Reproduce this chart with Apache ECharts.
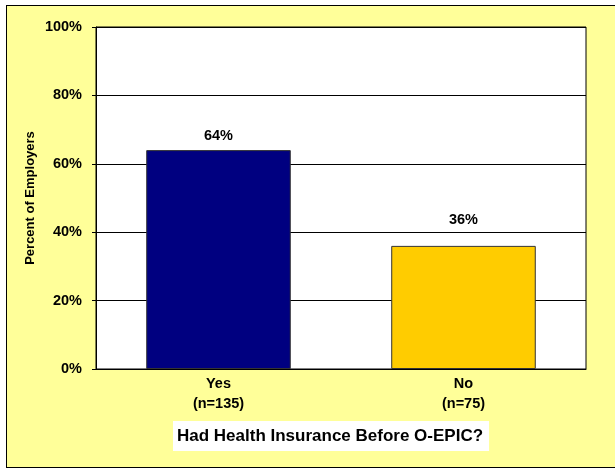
<!DOCTYPE html>
<html>
<head>
<meta charset="utf-8">
<script src="https://cdn.jsdelivr.net/npm/echarts@6/dist/echarts.min.js"></script>
<style>
  html, body { margin: 0; padding: 0; background: #fff; overflow: hidden; width: 615px; height: 468px; }
  #frame { position: absolute; left: 6px; top: 5px; width: 620px; height: 461px; border: 1px solid #000; background: #FFFF99; }
  #chart { position: absolute; left: 0; top: 0; width: 615px; height: 468px; }
</style>
</head>
<body>
<div id="frame"></div>
<div id="chart"></div>
<script>
// Employers that had health insurance before O-EPIC
const categories = ['Yes\n(n=135)', 'No\n(n=75)'];
const percentValues = [64, 36];
const barColors = ['#000080', '#FFCC00'];
const labelDistances = [7, 18];
const yTicks = [0, 20, 40, 60, 80, 100];

const chart = echarts.init(document.getElementById('chart'), null, { renderer: 'canvas' });
const font = 'Liberation Sans, Arial, sans-serif';

chart.setOption({
  backgroundColor: 'transparent',
  animation: false,
  title: {
    text: 'Had Health Insurance Before O-EPIC?',
    left: 173,
    top: 421,
    backgroundColor: '#fff',
    padding: [7, 6, 6, 4],
    textStyle: { fontFamily: font, fontWeight: 'bold', fontSize: 17, color: '#000' }
  },
  grid: {
    left: 96, top: 27, right: 29, bottom: 99,
    show: true, backgroundColor: '#fff', borderColor: '#000', borderWidth: 1
  },
  xAxis: {
    type: 'category',
    data: categories,
    axisLine: { lineStyle: { color: '#000', width: 1 } },
    axisTick: { show: false },
    axisLabel: {
      fontFamily: font, fontWeight: 'bold', fontSize: 14.5, color: '#000',
      lineHeight: 20, margin: 5
    }
  },
  yAxis: {
    type: 'value',
    min: yTicks[0],
    max: yTicks[yTicks.length - 1],
    interval: 20,
    name: 'Percent of Employers',
    nameLocation: 'middle',
    nameRotate: 90,
    nameGap: 59,
    nameMoveOverlap: false,
    nameTextStyle: { fontFamily: font, fontWeight: 'bold', fontSize: 13, color: '#000' },
    axisLine: { show: true, lineStyle: { color: '#000', width: 1 } },
    axisTick: { show: true, inside: false, length: 4, lineStyle: { color: '#000' } },
    axisLabel: {
      formatter: '{value}%',
      fontFamily: font, fontWeight: 'bold', fontSize: 14.5, color: '#000', margin: 14
    },
    splitLine: { show: true, lineStyle: { color: '#000', width: 1 } }
  },
  series: [{
    type: 'bar',
    barWidth: '59%',
    data: percentValues.map((v, i) => ({
      value: v,
      itemStyle: { color: barColors[i], borderColor: '#333', borderWidth: 1 },
      label: { distance: labelDistances[i] }
    })),
    label: {
      show: true,
      position: 'top',
      formatter: '{c}%',
      fontFamily: font, fontWeight: 'bold', fontSize: 14.5, color: '#000'
    }
  }]
});
</script>
</body>
</html>
